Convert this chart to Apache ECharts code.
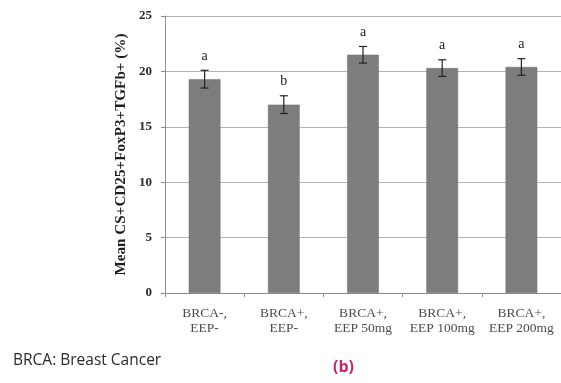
<!DOCTYPE html>
<html>
<head>
<meta charset="utf-8">
<script src="https://cdn.jsdelivr.net/npm/echarts@6/dist/echarts.min.js"></script>
<style>
  html, body { margin: 0; padding: 0; background: #ffffff; }
  #chart { width: 561px; height: 383px; }
</style>
</head>
<body>
<div id="chart"></div>
<script>
// Groups, means, error half-widths and significance letters
const categories = ['BRCA-,\nEEP-', 'BRCA+,\nEEP-', 'BRCA+,\nEEP 50mg', 'BRCA+,\nEEP 100mg', 'BRCA+,\nEEP 200mg'];
const means = [19.3, 17.0, 21.5, 20.3, 20.4];
const errors = [0.8, 0.8, 0.75, 0.75, 0.75];
const letters = ['a', 'b', 'a', 'a', 'a'];
const yTicks = { min: 0, max: 25, interval: 5 };

const serif = '"Liberation Serif", "DejaVu Serif", serif';
const sans = '"Open Sans", "Noto Sans", sans-serif';

const chart = echarts.init(document.getElementById('chart'), null, { renderer: 'canvas' });

const errData = means.map((m, i) => [i, m - errors[i], m + errors[i], letters[i]]);

chart.setOption({
  animation: false,
  grid: { left: 165, right: -2, top: 16, bottom: 90, containLabel: false },
  xAxis: {
    type: 'category',
    data: categories,
    axisLine: { show: true, lineStyle: { color: '#8c8c8c', width: 1 } },
    axisTick: { show: true, alignWithLabel: false, length: 4, lineStyle: { color: '#8c8c8c' } },
    axisLabel: {
      color: '#4d4d4d', fontFamily: serif, fontSize: 13.5, lineHeight: 15, margin: 13,
      interval: 0
    }
  },
  yAxis: {
    type: 'value',
    min: yTicks.min, max: yTicks.max, interval: yTicks.interval,
    name: 'Mean CS+CD25+FoxP3+TGFb+ (%)',
    nameLocation: 'middle',
    nameGap: 30,
    nameTextStyle: { fontFamily: serif, fontWeight: 'bold', fontSize: 15.2, color: '#1e1e1e' },
    axisLine: { show: true, lineStyle: { color: '#8c8c8c', width: 1 } },
    axisTick: { show: true, length: 4, lineStyle: { color: '#8c8c8c' } },
    axisLabel: { color: '#2a2a2a', fontFamily: serif, fontWeight: 'bold', fontSize: 13, margin: 13 },
    splitLine: { show: true, lineStyle: { color: '#b4b4b4', width: 1 } }
  },
  series: [
    {
      type: 'bar',
      data: means,
      barWidth: '40%',
      itemStyle: { color: '#7d7d7d', borderColor: '#6e6e6e', borderWidth: 0.5 },
      silent: true
    },
    {
      type: 'custom',
      data: errData,
      z: 5,
      renderItem: function (params, api) {
        const x = api.value(0);
        const lo = api.coord([x, api.value(1)]);
        const hi = api.coord([x, api.value(2)]);
        const cap = 4;
        const style = { stroke: '#222222', lineWidth: 1.2 };
        return {
          type: 'group',
          children: [
            { type: 'line', shape: { x1: hi[0], y1: hi[1], x2: lo[0], y2: lo[1] }, style: style },
            { type: 'line', shape: { x1: hi[0] - cap, y1: hi[1], x2: hi[0] + cap, y2: hi[1] }, style: style },
            { type: 'line', shape: { x1: lo[0] - cap, y1: lo[1], x2: lo[0] + cap, y2: lo[1] }, style: style },
            {
              type: 'text',
              style: {
                text: api.value(3), x: hi[0], y: hi[1] - 7,
                align: 'center', verticalAlign: 'bottom',
                fontFamily: serif, fontSize: 14, fill: '#222222'
              }
            }
          ]
        };
      }
    }
  ],
  graphic: [
    {
      type: 'text', left: 13, top: 353,
      style: { text: 'BRCA: Breast Cancer', fontFamily: sans, fontSize: 15.5, fill: '#2a2a2a' }
    },
    {
      type: 'text', left: 333, top: 359,
      style: { text: '(b)', fontFamily: sans, fontWeight: 'bold', fontSize: 16, fill: '#c2266d' }
    }
  ]
});
</script>
</body>
</html>
